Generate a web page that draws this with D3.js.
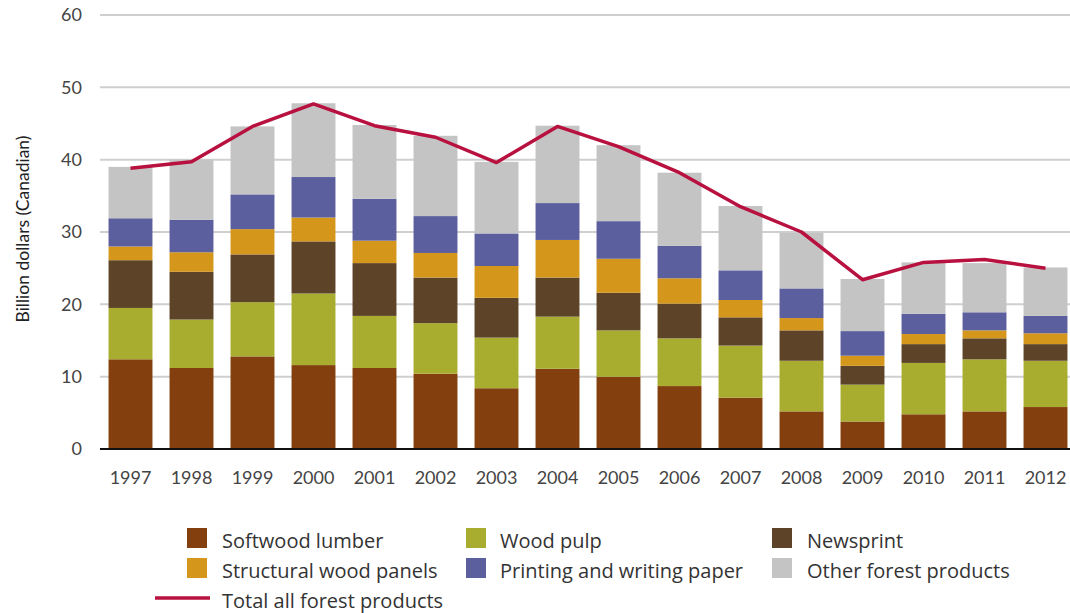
<!DOCTYPE html>
<html>
<head>
<meta charset="utf-8">
<script src="https://cdn.jsdelivr.net/npm/d3@7"></script>
<style>
  body { margin: 0; background: #fff; }
  svg { display: block; font-family: Lato, "Open Sans", sans-serif; }
</style>
</head>
<body>
<svg width="1070" height="613"></svg>
<script>
const years = ["1997", "1998", "1999", "2000", "2001", "2002", "2003", "2004", "2005", "2006", "2007", "2008", "2009", "2010", "2011", "2012"];

// billions of Canadian dollars, one value per year
const softwoodLumber = [12.4, 11.2, 12.8, 11.6, 11.2, 10.4, 8.4, 11.1, 10.0, 8.7, 7.1, 5.2, 3.8, 4.8, 5.2, 5.8];
const woodPulp = [7.1, 6.7, 7.5, 9.9, 7.2, 7.0, 7.0, 7.2, 6.4, 6.6, 7.2, 7.0, 5.1, 7.1, 7.2, 6.4];
const newsprint = [6.6, 6.6, 6.6, 7.2, 7.3, 6.3, 5.5, 5.4, 5.2, 4.8, 3.9, 4.2, 2.6, 2.6, 2.9, 2.3];
const structuralPanels = [1.9, 2.7, 3.5, 3.3, 3.1, 3.4, 4.4, 5.2, 4.7, 3.5, 2.4, 1.7, 1.4, 1.4, 1.1, 1.5];
const printingPaper = [3.9, 4.5, 4.8, 5.6, 5.8, 5.1, 4.5, 5.1, 5.2, 4.5, 4.1, 4.1, 3.4, 2.8, 2.5, 2.4];
const otherProducts = [7.1, 8.3, 9.4, 10.2, 10.2, 11.1, 9.9, 10.7, 10.5, 10.1, 8.9, 7.7, 7.2, 7.1, 6.8, 6.7];
const totalAll = [38.8, 39.7, 44.6, 47.7, 44.7, 43.1, 39.6, 44.6, 41.8, 38.2, 33.5, 30.0, 23.4, 25.8, 26.2, 25.0];

const yTicks = [0, 10, 20, 30, 40, 50, 60];

const seriesNames = ["Softwood lumber", "Wood pulp", "Newsprint", "Structural wood panels", "Printing and writing paper", "Other forest products"];
const seriesValues = [softwoodLumber, woodPulp, newsprint, structuralPanels, printingPaper, otherProducts];
const colors = ["#843f0f", "#a8ad2f", "#5d4328", "#d5961c", "#5b5f9e", "#c4c4c4"];
const lineColor = "#b8103f";

const svg = d3.select('svg');

const x = d3.scaleBand()
	.domain(years)
	.range([100, 1076])
	.paddingInner(0.28)
	.paddingOuter(0.14);

const y = d3.scaleLinear()
	.domain([0, 60])
	.range([449, 15]);

// griglia orizzontale
svg.append('g')
	.selectAll('line')
	.data(yTicks.filter(d => d > 0))
	.enter()
	.append('line')
	.attr('x1', 100)
	.attr('x2', 1070)
	.attr('y1', d => y(d))
	.attr('y2', d => y(d))
	.style('stroke', '#cfcfcf')
	.style('stroke-width', 2);

// asse y: solo le etichette
const yAxis = svg.append('g')
	.attr('transform', 'translate(100,0)')
	.call(d3.axisLeft(y).tickValues(yTicks).tickSize(0).tickPadding(18));
yAxis.select('.domain').remove();
yAxis.selectAll('text')
	.attr('font-family', 'Lato, sans-serif')
	.attr('font-size', '18px')
	.attr('fill', '#444');

svg.append('text')
	.attr('transform', 'translate(29,229) rotate(-90)')
	.attr('text-anchor', 'middle')
	.attr('font-size', '17.5px')
	.attr('fill', '#222')
	.text('Billion dollars (Canadian)');

// barre impilate
const rows = years.map((yr, i) => {
	const row = { year: yr };
	seriesNames.forEach((name, k) => row[name] = seriesValues[k][i]);
	return row;
});
const stacked = d3.stack().keys(seriesNames)(rows);

svg.append('g')
	.selectAll('g')
	.data(stacked)
	.enter()
	.append('g')
	.attr('fill', (d, i) => colors[i])
	.selectAll('rect')
	.data(d => d)
	.enter()
	.append('rect')
	.attr('x', d => x(d.data.year))
	.attr('width', x.bandwidth())
	.attr('y', d => y(d[1]))
	.attr('height', d => y(d[0]) - y(d[1]));

// asse x
svg.append('line')
	.attr('x1', 100)
	.attr('x2', 1070)
	.attr('y1', y(0))
	.attr('y2', y(0))
	.style('stroke', '#111')
	.style('stroke-width', 2);

const xAxis = svg.append('g')
	.attr('transform', `translate(0,${y(0)})`)
	.call(d3.axisBottom(x).tickSize(0).tickPadding(22));
xAxis.select('.domain').remove();
xAxis.selectAll('text')
	.attr('font-family', 'Lato, sans-serif')
	.attr('font-size', '18px')
	.attr('fill', '#444');

// linea del totale
const line = d3.line()
	.x((d, i) => x(years[i]) + x.bandwidth() / 2)
	.y(d => y(d));

svg.append('path')
	.attr('d', line(totalAll))
	.style('fill', 'none')
	.style('stroke', lineColor)
	.style('stroke-width', 3.5)
	.style('stroke-linejoin', 'round');

// legenda
const swatchCols = [187, 466, 772];
const textCols = [222, 500, 807];
const legendRows = [548, 578];

seriesNames.forEach((name, i) => {
	const c = i % 3;
	const row = legendRows[Math.floor(i / 3)];
	svg.append('rect')
		.attr('x', swatchCols[c])
		.attr('y', row - 20)
		.attr('width', 20)
		.attr('height', 20)
		.style('fill', colors[i]);
	svg.append('text')
		.attr('x', textCols[c])
		.attr('y', row)
		.attr('font-family', '"Open Sans", sans-serif')
		.attr('font-size', '20px')
		.attr('fill', '#333')
		.text(name);
});

svg.append('line')
	.attr('x1', 155)
	.attr('x2', 210)
	.attr('y1', 598)
	.attr('y2', 598)
	.style('stroke', lineColor)
	.style('stroke-width', 3.5);

svg.append('text')
	.attr('x', 222)
	.attr('y', 608)
	.attr('font-family', '"Open Sans", sans-serif')
	.attr('font-size', '20px')
	.attr('fill', '#333')
	.text('Total all forest products');
</script>
</body>
</html>
